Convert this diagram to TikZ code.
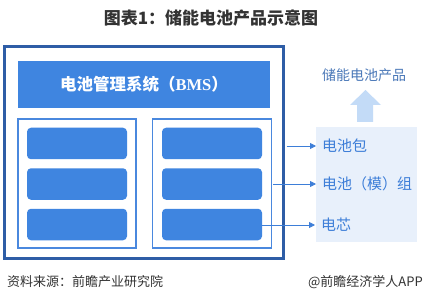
\documentclass[tikz,border=0pt]{standalone}
\usepackage{fontspec}
\setmainfont{Noto Sans CJK SC}
\newfontfamily\latinserif{Liberation Serif}
\usetikzlibrary{arrows.meta}
\definecolor{titlegray}{HTML}{333333}
\definecolor{outerblue}{HTML}{2E5DA6}
\definecolor{mainblue}{HTML}{3F85E0}
\definecolor{lineblue}{HTML}{4A88DE}
\definecolor{panelfill}{HTML}{E8F0FB}
\definecolor{arrowfill}{HTML}{C3DBF7}
\definecolor{prodblue}{HTML}{4A78B8}
\definecolor{labelblue}{HTML}{3D7ED8}
\tikzset{
  outerbox/.style={draw=outerblue, line width=3pt, fill=white, inner sep=0pt},
  bmsbox/.style={fill=mainblue, inner sep=0pt, text=white, font=\bfseries\fontsize{16.5}{19}\selectfont},
  innerbox/.style={draw=lineblue, line width=1.6pt, fill=white, inner sep=0pt},
  cellbox/.style={fill=mainblue, rounded corners=4pt, inner sep=0pt, minimum width=100pt, minimum height=31.5pt},
  panelbox/.style={fill=panelfill, inner sep=0pt},
  plabel/.style={text=labelblue, font=\fontsize{15}{17}\selectfont, anchor=west, inner sep=2pt},
  conn/.style={draw=labelblue, line width=0.8pt, -{Triangle[length=6pt,width=6pt]}},
  foot/.style={text=titlegray, font=\fontsize{13}{15}\selectfont, inner sep=0pt}
}
\begin{document}
\begin{tikzpicture}[x=1pt,y=-1pt]
\useasboundingbox (0,0) rectangle (423,302);
\fill[white] (0,0) rectangle (423,302);
% title
\node[text=titlegray, font=\bfseries\fontsize{17}{19}\selectfont, inner sep=0pt] (title) at (211,18) {图表1：储能电池产品示意图};
% outer box
\node[outerbox, minimum width=279pt, minimum height=211pt] (outer) at (144,152.5) {};
\node[bmsbox, minimum width=252pt, minimum height=47pt] (bms) at (144,84.5) {电池管理系统（{\latinserif\bfseries BMS}）};
\node[innerbox, minimum width=118pt, minimum height=129pt] (left) at (77,183.5) {};
\node[innerbox, minimum width=119pt, minimum height=129pt] (right) at (212,183.5) {};
% cells
\node[cellbox] (l1) at (77,143.5) {};
\node[cellbox] (l2) at (77,184) {};
\node[cellbox] (l3) at (77,224.5) {};
\node[cellbox] (r1) at (212,143.5) {};
\node[cellbox] (r2) at (212,184) {};
\node[cellbox] (r3) at (212,224.5) {};
% right panel
\node[panelbox, minimum width=101pt, minimum height=115pt] (panel) at (366.5,184.5) {};
\node[text=prodblue, font=\fontsize{14}{16}\selectfont, inner sep=0pt] (prod) at (364,75) {储能电池产品};
\fill[arrowfill] (365.5,90) -- (381,105) -- (373,105) -- (373,122) -- (357,122) -- (357,105) -- (350,105) -- cycle;
% labels
\node[plabel] (t1) at (320,146) {电池包};
\node[plabel] (t2) at (320,184) {电池（模）组};
\node[plabel] (t3) at (319,225) {电芯};
\coordinate (e1) at ([xshift=-4pt]t1.west);
\coordinate (e2) at ([xshift=-4pt]t2.west);
\coordinate (e3) at ([xshift=-4pt]t3.west);
\draw[conn] ([xshift=1.5pt]outer.east |- t1.west) -- (e1);
\draw[conn] ([xshift=0.8pt]right.east |- t2.west) -- (e2);
\draw[conn] (r3.east |- t3.west) -- (e3);
% footer
\node[foot, anchor=west] (src) at (7,282) {资料来源：前瞻产业研究院};
\node[foot, anchor=east] (app) at (423,282) {@前瞻经济学人APP};
\end{tikzpicture}
\end{document}
